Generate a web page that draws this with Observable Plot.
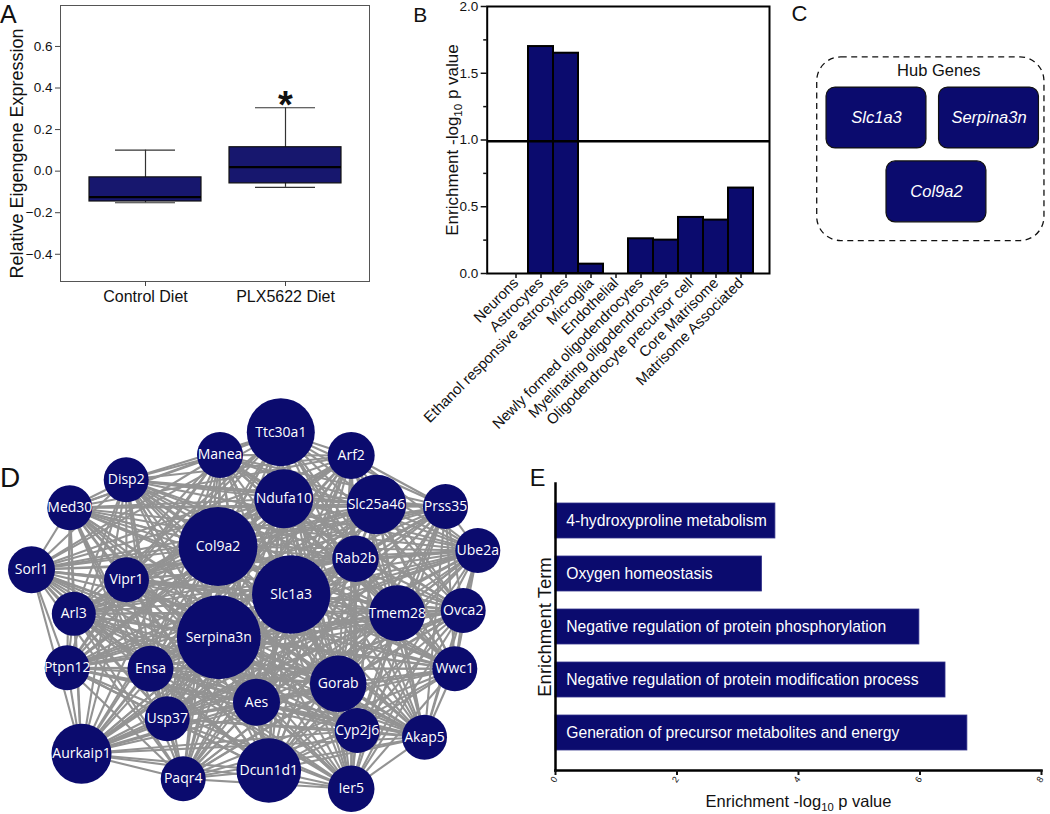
<!DOCTYPE html>
<html><head><meta charset="utf-8">
<script src="https://cdn.jsdelivr.net/npm/d3@7"></script>
<script src="https://cdn.jsdelivr.net/npm/@observablehq/plot@0.6"></script>
<style>
html,body{margin:0;padding:0;background:#fff;}
#root{position:relative;width:1050px;height:814px;overflow:hidden;background:#fff;}
.panel{position:absolute;}
.panel svg{overflow:visible;font-family:'Liberation Sans', Arial, Helvetica, sans-serif;background:transparent;}
.letter{position:absolute;font-family:'Liberation Sans', Arial, sans-serif;line-height:1;color:#111;white-space:nowrap;}
</style></head><body><div id="root"></div>
<script>
// ---------- DATA ----------
// Panel A: module eigengene box plot (summary statistics)
const groupsA = ["Control Diet", "PLX5622 Diet"];
const whiskerLowA = [-0.152, -0.078];
const q1A = [-0.146, -0.059];
const medianA = [-0.125, 0.019];
const q3A = [-0.030, 0.115];
const whiskerHighA = [0.101, 0.305];
const signifA = ["", "*"];
const ticksA = [-0.4, -0.2, 0, 0.2, 0.4, 0.6];

// Panel B: cell type enrichment
const cellTypesB = ["Neurons", "Astrocytes", "Ethanol responsive astrocytes", "Microglia", "Endothelial",
  "Newly formed oligodendrocytes", "Myelinating oligodendrocytes", "Oligodendrocyte precursor cell",
  "Core Matrisome", "Matrisome Associated"];
const enrichB = [0, 1.70, 1.65, 0.07, 0, 0.26, 0.25, 0.42, 0.40, 0.64];
const thresholdB = 0.99;
const ticksB = [0, 0.5, 1, 1.5, 2];
const minorTicksB = [0.25, 0.75, 1.25, 1.75];

// Panel C: hub genes (grid layout row / column)
const hubGenes = ["Slc1a3", "Serpina3n", "Col9a2"];
const hubRow = [0, 0, 1];
const hubCol = [0, 1, 0.533];

// Panel D: network nodes (layout coordinates and node size)
const nodeNames = ["Ttc30a1","Manea","Arf2","Disp2","Ndufa10","Slc25a46","Prss35","Med30","Col9a2","Ube2a",
  "Rab2b","Sorl1","Vipr1","Slc1a3","Ovca2","Tmem28","Arl3","Serpina3n","Ptpn12","Ensa",
  "Wwc1","Gorab","Aes","Usp37","Cyp2j6","Akap5","Aurkaip1","Dcun1d1","Paqr4","Ier5"];
const nodeX = [280.3,219.5,350.7,125.7,283.3,376,445,69.3,217.5,477.3,
  355,31,126,290.7,462.7,396.7,73.3,218.3,66.7,150,
  454.3,337.7,256,166.7,356.7,424,81,268.3,182.7,350.7];
const nodeY = [431.7,454.5,455,479.3,498.3,504,506,507.3,546,550,
  558.3,569.3,579.3,594,610,612.7,613.3,636.7,667.3,668.3,
  668.3,683.3,701.7,718.3,730,736.7,753.3,770,778.3,788.3];
const nodeSize = [34,23,23.5,22.5,29.5,29.7,22.5,22.5,39.5,22.5,
  23.3,23.5,22.5,39.2,22.5,28,22,42,22.5,23,
  22.5,28.3,23.5,22.5,22.5,22.5,30,32.3,22.5,23.3];

// Panel E: functional enrichment
const termsE = ["4-hydroxyproline metabolism", "Oxygen homeostasis",
  "Negative regulation of protein phosphorylation",
  "Negative regulation of protein modification process",
  "Generation of precursor metabolites and energy"];
const enrichE = [3.62, 3.40, 5.99, 6.42, 6.78];
const ticksE = [0, 2, 4, 6, 8];

// ---------- HELPERS ----------
const navy = "#0b0b6e";
const sans = "'Liberation Sans', Arial, Helvetica, sans-serif";
const root = document.getElementById("root");
function place(node, left, top, w, h) {
  const div = document.createElement("div");
  div.className = "panel";
  Object.assign(div.style, {left: left + "px", top: top + "px", width: w + "px", height: h + "px"});
  div.appendChild(node);
  root.appendChild(div);
}
function letter(t, left, top, size) {
  const s = document.createElement("div");
  s.className = "letter";
  s.textContent = t;
  Object.assign(s.style, {left: left + "px", top: top + "px", fontSize: size + "px"});
  root.appendChild(s);
}
function subscripts(svg) {
  const ns = "http://www.w3.org/2000/svg";
  svg.querySelectorAll("text").forEach(t => {
    const s = t.textContent;
    if (!s.includes("_{10}")) return;
    const [a, b] = s.split("_{10}");
    while (t.firstChild) t.removeChild(t.firstChild);
    const t1 = document.createElementNS(ns, "tspan"); t1.textContent = a;
    const t2 = document.createElementNS(ns, "tspan"); t2.textContent = "10";
    t2.setAttribute("font-size", "0.68em"); t2.setAttribute("dy", "0.35em");
    const t3 = document.createElementNS(ns, "tspan"); t3.textContent = b; t3.setAttribute("dy", "-0.238em");
    t.append(t1, t2, t3);
  });
}
function styleLabel(svg, axis, size, shiftX = 0, shiftY = 0) {
  svg.querySelectorAll(`g[aria-label="${axis}-axis label"]`).forEach(g => {
    g.setAttribute("font-size", size);
    if (shiftX || shiftY) {
      const tr = g.getAttribute("transform") || "";
      g.setAttribute("transform", `translate(${shiftX},${shiftY}) ${tr}`);
    }
  });
}
function hasFont(name) {
  const c = document.createElement("canvas").getContext("2d");
  const s = "abcdefghijklmnopqrstuvwxyz ABCDEFGHIJ 0123456789";
  c.font = "40px monospace"; const w1 = c.measureText(s).width;
  c.font = `40px '${name}', monospace`; const w2 = c.measureText(s).width;
  return Math.abs(w1 - w2) > 1;
}
const narrow = hasFont("Liberation Sans Narrow");
const eFont = narrow ? "'Liberation Sans Narrow', 'Liberation Sans', sans-serif" : sans;
const eSize = narrow ? 19 : 15.7;
const baseStyle = {fontFamily: sans, color: "#111", background: "transparent", overflow: "visible"};

// ---------- PANEL A ----------
const dataA = groupsA.map((g, i) => ({g, lo: whiskerLowA[i], q1: q1A[i], med: medianA[i], q3: q3A[i], hi: whiskerHighA[i], sig: signifA[i]}));
const plotA = Plot.plot({
  width: 380, height: 320, marginLeft: 60, marginRight: 11, marginTop: 5, marginBottom: 39,
  style: {...baseStyle, fontSize: "13.5px"},
  x: {type: "band", domain: groupsA, padding: 0.2},
  y: {domain: [-0.531, 0.797]},
  marks: [
    Plot.ruleX(dataA, {x: "g", y1: "lo", y2: "hi", stroke: "#333", strokeWidth: 1.2}),
    Plot.tickY(dataA, {x: "g", y: "hi", stroke: "#333", strokeWidth: 1.2, insetLeft: 26, insetRight: 26}),
    Plot.tickY(dataA, {x: "g", y: "lo", stroke: "#333", strokeWidth: 1.2, insetLeft: 26, insetRight: 26}),
    Plot.barY(dataA, {x: "g", y1: "q1", y2: "q3", fill: "#17176e", stroke: "#111", strokeWidth: 1.2}),
    Plot.tickY(dataA, {x: "g", y: "med", stroke: "#000", strokeWidth: 2.2}),
    Plot.text(dataA, {x: "g", y: "hi", text: "sig", fontSize: 38, fontWeight: "bold", lineAnchor: "middle", dy: -2, fill: "#111"}),
    Plot.frame({stroke: "#555", strokeWidth: 1}),
    Plot.axisY({ticks: ticksA, tickFormat: ".1f", tickSize: 5, tickPadding: 3, stroke: "#444", fontSize: 13.5,
      label: "Relative Eigengene Expression", labelAnchor: "center", labelOffset: 50, labelArrow: "none"}),
    Plot.axisX({tickSize: 5, tickPadding: 4, fontSize: 16, stroke: "#444", label: null})
  ]
});
styleLabel(plotA, "y", 18, 0, 10);
place(plotA, 0, 0, 380, 320);

// ---------- PANEL B ----------
const dataB = cellTypesB.map((c, i) => ({c, v: enrichB[i]}));
const plotB = Plot.plot({
  width: 360, height: 450, marginLeft: 66.7, marginRight: 11, marginTop: 6, marginBottom: 177,
  style: {...baseStyle, fontSize: "13.5px"},
  x: {type: "band", domain: cellTypesB, paddingInner: 0, paddingOuter: 0.5},
  y: {domain: [0, 2]},
  marks: [
    Plot.barY(dataB, {x: "c", y: "v", fill: navy, stroke: "#000", strokeWidth: 2}),
    Plot.ruleY([thresholdB], {stroke: "#000", strokeWidth: 2.5}),
    Plot.frame({stroke: "#000", strokeWidth: 2}),
    Plot.axisY({ticks: ticksB, tickFormat: ".1f", tickSize: 6, strokeWidth: 1.5, fontSize: 13.5,
      label: "Enrichment -log_{10} p value", labelAnchor: "center", labelOffset: 41.7, labelArrow: "none"}),
    Plot.axisY({ticks: minorTicksB, tickSize: 3.5, strokeWidth: 1.5, tickFormat: () => "", label: null}),
    Plot.axisX({tickSize: 5, strokeWidth: 1.5, tickRotate: -45, fontSize: 14.8, tickPadding: 2, label: null})
  ]
});
styleLabel(plotB, "y", 17);
subscripts(plotB);
place(plotB, 420, 0, 360, 450);

// ---------- PANEL C ----------
const hub = hubGenes.map((g, i) => ({g, row: hubRow[i], col: hubCol[i]}));
const plotC = Plot.plot({
  width: 260, height: 260, margin: 0,
  style: {...baseStyle, fontSize: "16px"},
  x: {domain: [0, 1], range: [86, 198.5], axis: null},
  y: {domain: [0, 1], range: [117.5, 191.4], axis: null},
  marks: [
    Plot.rect([0], {x1: -0.527, x2: 1.493, y1: -0.82, y2: 1.665, rx: 24, fill: "none", stroke: "#111", strokeWidth: 1.3, strokeDasharray: "6,4.5"}),
    Plot.text(["Hub Genes"], {x: 0.554, y: -0.635, text: d => d, fontSize: 16.5, lineAnchor: "middle", fill: "#111"}),
    Plot.rect(hub, {x1: d => d.col - 0.444, x2: d => d.col + 0.444, y1: d => d.row - 0.412, y2: d => d.row + 0.412,
      rx: 9, fill: navy, stroke: "#111", strokeWidth: 1.2}),
    Plot.text(hub, {x: "col", y: "row", text: "g", fill: "white", fontStyle: "italic", fontSize: 16.5})
  ]
});
place(plotC, 790, 0, 260, 260);

// ---------- PANEL D ----------
const nodes = nodeNames.map((n, i) => ({n, x: nodeX[i], y: nodeY[i], s: nodeSize[i]}));
const links = [];
for (let i = 0; i < nodes.length; i++) for (let j = i + 1; j < nodes.length; j++) links.push({a: nodes[i], b: nodes[j]});
const plotD = Plot.plot({
  width: 520, height: 434, margin: 0,
  style: {...baseStyle, fontSize: "14px"},
  x: {domain: [0, 520], range: [0, 520], axis: null},
  y: {domain: [380, 814], range: [0, 434], axis: null},
  r: {type: "linear", domain: [0, 50], range: [0, 50]},
  marks: [
    Plot.link(links, {x1: d => d.a.x, y1: d => d.a.y, x2: d => d.b.x, y2: d => d.b.y, stroke: "#939393", strokeWidth: 2.1}),
    Plot.dot(nodes, {x: "x", y: "y", r: "s", fill: navy}),
    Plot.text(nodes, {x: "x", y: "y", text: "n", fill: "white", fontSize: 14, fontFamily: "'Open Sans', sans-serif"})
  ]
});
place(plotD, 0, 380, 520, 434);

// ---------- PANEL E ----------
const dataE = termsE.map((t, i) => ({t, v: enrichE[i]}));
const plotE = Plot.plot({
  width: 530, height: 354, marginLeft: 35, marginRight: 9, marginTop: 23, marginBottom: 44,
  style: {...baseStyle, fontSize: "16.5px"},
  x: {domain: [0, 8]},
  y: {type: "band", domain: termsE, padding: 0.345},
  marks: [
    Plot.barX(dataE, {x: "v", y: "t", fill: navy, stroke: "#34348a", strokeWidth: 0.8}),
    Plot.text(dataE, {x: 0, y: "t", text: "t", dx: 10.7, textAnchor: "start", fill: "white", fontSize: eSize, fontFamily: eFont}),
    Plot.frame({anchor: "left", stroke: "#000", strokeWidth: 2.5}),
    Plot.frame({anchor: "bottom", stroke: "#000", strokeWidth: 2.5}),
    Plot.axisX({ticks: ticksE, tickSize: 5, strokeWidth: 2, tickRotate: -55, fontSize: 9, tickPadding: 2,
      label: "Enrichment -log_{10} p value", labelAnchor: "center", labelOffset: 36.5, labelArrow: "none"}),
    Plot.axisY({ticks: [], tickSize: 0, label: "Enrichment Term", labelAnchor: "center", labelOffset: 17.7, labelArrow: "none"})
  ]
});
styleLabel(plotE, "x", 16.5);
styleLabel(plotE, "y", 18.5);
subscripts(plotE);
place(plotE, 520, 460, 530, 354);

// ---------- PANEL LETTERS ----------
letter("A", 0, 1.8, 25);
letter("B", 413.3, 4, 21);
letter("C", 791.6, 3.2, 22);
letter("D", 0, 464, 28);
letter("E", 529.8, 466.9, 23.5);
</script></body></html>
